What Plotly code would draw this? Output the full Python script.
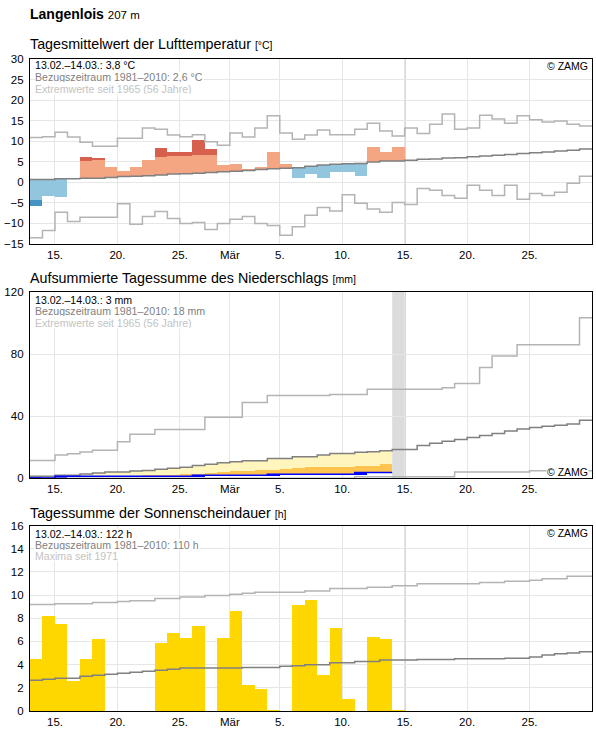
import plotly.graph_objects as go

# ---------------- DATA ----------------
# day index 0 = 13 Feb, 45 days shown (13 Feb .. 29 Mar)
tick_days = [2, 7, 12, 16, 20, 25, 30, 35, 40]
tick_labels = ["15.", "20.", "25.", "Mär", "5.", "10.", "15.", "20.", "25."]

# Temperature (°C)
temp_actual = [-5.8, -3.35, -3.6, 1.0, 6.25, 5.7, 3.7, 2.75, 3.7, 5.4,
               8.35, 7.4, 7.4, 10.3, 8.1, 4.2, 4.45, 3.25, 3.7, 7.4,
               4.45, 1.1, 2.1, 1.1, 2.6, 2.6, 1.6, 8.6, 7.4, 8.6]
temp_upper = [5.0, 5.0, 5.2, 5.2, 5.2, 5.45, 5.6, 5.8, 5.9, 6.0,
              6.2, 6.4, 6.4, 6.65, 6.65, 6.9, 7.0, 7.2, 7.4, 7.6,
              7.7, 7.9, 8.2, 8.5, 8.7, 8.8, 8.9, 9.2, 9.4, 9.4]
temp_lower = [-4.3, -4.3, -4.1, -4.1, -4.0, -4.0, -3.8, -3.6, -3.5, -3.4,
              -3.2, -3.0, -2.9, -2.8, -2.6, -2.4, -2.3, -2.1, -1.9, -1.7,
              -1.6, -1.4, -1.1, -0.8, -0.6, -0.5, -0.4, 0.0, 0.2, 0.2]
temp_norm = [0.7, 0.7, 0.9, 0.9, 1.0, 1.0, 1.2, 1.4, 1.5, 1.6,
             1.8, 2.0, 2.1, 2.2, 2.4, 2.6, 2.7, 2.9, 3.1, 3.3,
             3.4, 3.55, 3.9, 4.2, 4.4, 4.5, 4.6, 4.95, 5.2, 5.2,
             5.4, 5.6, 5.7, 5.9, 6.0, 6.2, 6.4, 6.6, 6.8, 7.0, 7.2, 7.4, 7.6, 7.8, 8.1]
temp_max = [10.9, 11.1, 12.2, 11.0, 9.75, 8.8, 8.8, 10.7, 10.7, 13.2,
            12.9, 11.5, 11.1, 11.6, 9.9, 9.0, 12.0, 11.0, 13.2, 16.2,
            12.0, 10.5, 11.5, 12.75, 11.6, 11.6, 12.9, 14.4, 12.5, 11.3,
            13.2, 11.85, 14.1, 16.6, 12.9, 13.2, 16.3, 15.4, 14.4, 16.2,
            15.2, 14.7, 14.9, 14.1, 13.7]
temp_min = [-13.5, -11.7, -7.3, -9.5, -8.5, -8.5, -8.5, -5.2, -10.2, -8.3,
            -7.1, -8.8, -10.0, -9.75, -11.5, -10.0, -9.0, -8.3, -10.0, -10.5,
            -12.9, -10.8, -8.0, -6.1, -7.0, -3.0, -5.1, -6.5, -7.3, -4.9,
            -5.4, -1.5, -1.9, -3.2, -3.9, -0.7, -1.9, -3.2, -0.7, -4.1,
            -2.7, -3.2, -2.4, -0.2, 1.5]

# Precipitation, accumulated (mm)
prec_actual = [0.2, 0.2, 1.3, 1.3, 1.3, 1.3, 1.3, 1.3, 1.3, 1.3,
               1.3, 1.3, 1.3, 1.9, 1.9, 1.9, 1.9, 1.9, 1.9, 2.6,
               2.6, 2.6, 2.6, 2.6, 2.6, 2.6, 3.8, 3.8, 3.8]
prec_half = [0.6, 0.6, 1.0, 1.0, 1.3, 1.3, 1.3, 1.3, 1.3, 2.1,
             2.1, 2.1, 3.0, 3.0, 3.6, 4.0, 4.4, 4.9, 5.3, 5.3,
             6.0, 6.4, 7.1, 7.1, 7.5, 7.6, 8.1, 8.1, 9.4]
prec_norm = [1.3, 1.3, 1.9, 1.9, 2.7, 3.4, 4.0, 4.0, 4.7, 5.1,
             5.8, 6.4, 7.1, 8.3, 9.0, 10.0, 10.7, 11.3, 11.3, 12.8,
             12.8, 13.9, 13.9, 15.0, 16.0, 16.0, 16.7, 17.1, 17.7, 18.6,
             18.6, 21.2, 22.5, 23.8, 25.0, 26.3, 27.6, 28.9, 30.4, 31.7,
             32.8, 33.6, 34.2, 34.9, 37.4]
prec_max = [11.5, 11.5, 15.0, 15.8, 16.9, 18.0, 18.0, 23.5, 28.4, 28.4,
            31.5, 31.5, 31.5, 31.5, 39.4, 39.4, 39.4, 48.8, 48.8, 53.3,
            53.3, 53.3, 53.3, 53.3, 53.9, 53.9, 53.9, 57.3, 57.3, 57.3,
            57.3, 57.3, 57.3, 58.4, 61.0, 61.0, 71.3, 78.8, 78.8, 86.0,
            86.0, 86.0, 86.0, 86.0, 103.4]
prec_min = [0.0] * 26 + [1.0] * 8 + [4.0] * 6 + [4.9] * 5

# Sunshine duration (h)
sun_actual = [4.5, 8.25, 7.56, 2.62, 4.5, 6.23, 0, 0, 0, 0,
              5.9, 6.78, 6.32, 7.39, 0, 6.32, 8.66, 2.25, 1.9, 0.12,
              0, 9.18, 9.6, 3.12, 7.19, 1.04, 0, 6.4, 6.23, 0.09]
sun_norm = [2.66, 2.74, 2.83, 2.83, 3.0, 3.09, 3.17, 3.26, 3.35, 3.43,
            3.52, 3.61, 3.7, 3.7, 3.7, 3.7, 3.7, 3.75, 3.75, 3.75,
            3.87, 3.9, 3.98, 3.98, 4.16, 4.16, 4.27, 4.27, 4.39, 4.39,
            4.39, 4.44, 4.44, 4.44, 4.5, 4.5, 4.5, 4.5, 4.56, 4.56,
            4.65, 4.82, 4.93, 5.0, 5.1]
sun_max = [9.18, 9.18, 9.25, 9.25, 9.25, 9.35, 9.35, 9.45, 9.52, 9.52,
           9.7, 9.7, 9.84, 9.84, 9.96, 9.96, 10.07, 10.15, 10.25, 10.25,
           10.25, 10.25, 10.36, 10.36, 10.56, 10.56, 10.56, 10.68, 10.68, 10.8,
           10.8, 10.97, 10.97, 10.97, 10.97, 10.97, 11.08, 11.08, 11.2, 11.2,
           11.28, 11.4, 11.4, 11.63, 11.63]

# ---------------- STYLE ----------------
W, H = 596, 729
FONT = "Liberation Sans, Arial, sans-serif"
C_LIGHT_RED, C_DARK_RED = "#f4a582", "#d6604d"
C_LIGHT_BLUE, C_DARK_BLUE = "#92c5de", "#4393c3"
C_NORM, C_EXT = "#808080", "#b4b4b4"
GRID = "#e6e6e6"

# panel pixel extents (top, bottom)
panels = [(59, 244), (292, 478.3), (525.5, 711)]


def pdom(top, bottom):
    return [1 - bottom / H, 1 - top / H]


def py(ypx):
    return 1 - ypx / H


def step(vals):
    return list(range(len(vals) + 1)), list(vals) + [vals[-1]]


fig = go.Figure()


def add_line(vals, color, axis, width=1.5):
    xs, ys = step(vals)
    fig.add_trace(go.Scatter(x=xs, y=ys, mode="lines", line=dict(color=color, width=width, shape="hv"),
                             xaxis="x" + axis, yaxis="y" + axis, hoverinfo="skip", showlegend=False))


def add_bars(bases, heights, color, axis):
    xs = [i + 0.5 for i in range(len(bases))]
    fig.add_trace(go.Bar(x=xs, y=heights, base=bases, width=1.0, marker=dict(color=color, line=dict(width=0)),
                         xaxis="x" + axis, yaxis="y" + axis, hoverinfo="skip", showlegend=False))


# ---- Panel 1: temperature ----
lr_b, lr_h, dr_b, dr_h, lb_b, lb_h, db_b, db_h = ([] for _ in range(8))
for i, a in enumerate(temp_actual):
    n, u, lo = temp_norm[i], temp_upper[i], temp_lower[i]
    if a >= n:
        top = min(a, u)
        lr_b.append(n); lr_h.append(top - n)
        dr_b.append(u); dr_h.append(max(a - u, 0))
        lb_b.append(0); lb_h.append(0); db_b.append(0); db_h.append(0)
    else:
        bot = max(a, lo)
        lb_b.append(bot); lb_h.append(n - bot)
        db_b.append(a); db_h.append(max(lo - a, 0))
        lr_b.append(0); lr_h.append(0); dr_b.append(0); dr_h.append(0)
add_bars(lr_b, lr_h, C_LIGHT_RED, "")
add_bars(dr_b, dr_h, C_DARK_RED, "")
add_bars(lb_b, lb_h, C_LIGHT_BLUE, "")
add_bars(db_b, db_h, C_DARK_BLUE, "")
add_line(temp_max, C_EXT, "")
add_line(temp_min, C_EXT, "")
add_line(temp_norm, C_NORM, "")

# ---- Panel 2: precipitation ----
n_p = len(prec_actual)
add_bars(prec_actual, [prec_half[i] - prec_actual[i] if prec_half[i] > prec_actual[i] else 0 for i in range(n_p)],
         "#fec44f", "2")
add_bars([max(prec_half[i], prec_actual[i]) for i in range(n_p)],
         [max(prec_norm[i] - max(prec_half[i], prec_actual[i]), 0) for i in range(n_p)], "#fff5bd", "2")
prev = [0] + prec_actual[:-1]
add_bars(prev, [prec_actual[i] - prev[i] for i in range(n_p)], "#0000ff", "2")
add_line(prec_max, C_EXT, "2")
add_line(prec_min, C_EXT, "2")
add_line(prec_norm, C_NORM, "2")
add_line(prec_actual, "#0000ff", "2", width=1.5)

# ---- Panel 3: sunshine ----
add_bars([0] * len(sun_actual), sun_actual, "#ffd700", "3")
add_line(sun_max, C_EXT, "3")
add_line(sun_norm, C_NORM, "3")

# ---------------- AXES ----------------
axis_common = dict(showline=True, linecolor="black", linewidth=1.3, mirror=True, automargin=False,
                   showgrid=True, gridcolor=GRID, gridwidth=1, zeroline=False, ticks="",
                   tickfont=dict(family=FONT, size=11.5, color="black"), fixedrange=True)
layout = dict(width=W, height=H, margin=dict(l=30, r=4, t=0, b=0),
              paper_bgcolor="white", plot_bgcolor="white", barmode="overlay", bargap=0,
              showlegend=False, font=dict(family=FONT))
yranges = [[-15, 30], [0, 120], [0, 16]]
ydticks = [5, 40, 2]
for k, (suffix, (t, b)) in enumerate(zip(["", "2", "3"], panels)):
    layout["xaxis" + suffix] = dict(axis_common, domain=[0, 1], range=[0, 45], anchor="y" + suffix,
                                    tickmode="array", tickvals=tick_days, ticktext=tick_labels)
    layout["yaxis" + suffix] = dict(axis_common, domain=pdom(t, b), range=yranges[k], anchor="x" + suffix,
                                    tick0=0, dtick=ydticks[k], ticklabelstandoff=3)
fig.update_layout(**layout)

# ---------------- SHAPES ----------------
fig.add_shape(type="rect", xref="x2", yref="y2", x0=29, x1=30, y0=0, y1=120,
              fillcolor="#dcdcdc", line=dict(width=0), layer="below")
for suffix, (y0, y1) in zip(["", "2", "3"], yranges):
    fig.add_shape(type="line", xref="x" + suffix, yref="y" + suffix, x0=30, x1=30, y0=y0, y1=y1,
                  line=dict(color=C_NORM, width=1.3), layer="below")

# ---------------- TEXT ----------------
def ann(text, x, ypx, size, color="black", xanchor="left", bg=None, h=None):
    fig.add_annotation(text=text, xref="paper", yref="paper", x=x, y=py(ypx), xanchor=xanchor,
                       yanchor="middle", showarrow=False, font=dict(family=FONT, size=size, color=color),
                       bgcolor=bg, borderpad=0, height=h, valign="middle")


ann("<b>Langenlois</b> <span style='font-size:11.5px'>207 m</span>", -0.002, 14, 14)
titles = [("Tagesmittelwert der Lufttemperatur", "[°C]", 44),
          ("Aufsummierte Tagessumme des Niederschlags", "[mm]", 278.5),
          ("Tagessumme der Sonnenscheindauer", "[h]", 512.5)]
for t, u, yc in titles:
    ann(t + " <span style='font-size:10.5px'>" + u + "</span>", -0.002, yc, 14.3)

info = [
    (["13.02.–14.03.: 3,8 °C", "Bezugszeitraum 1981–2010: 2,6 °C", "Extremwerte seit 1965 (56 Jahre)"],
     [64.7, 77.0, 89.2]),
    (["13.02.–14.03.: 3 mm", "Bezugszeitraum 1981–2010: 18 mm", "Extremwerte seit 1965 (56 Jahre)"],
     [300.0, 311.4, 322.9]),
    (["13.02.–14.03.: 122 h", "Bezugszeitraum 1981–2010: 110 h", "Maxima seit 1971"],
     [534.0, 544.9, 555.9]),
]
cols = ["black", "#808080", "#c3c3c3"]
for lines, ys in info:
    for txt, yc, c in zip(lines, ys, cols):
        ann(txt, 0.008, yc, 10.6, c, bg="white", h=10)

for yc in [65.7, 472.3, 533.3]:
    ann("© ZAMG", 0.9945, yc, 10.5, "black", xanchor="right", bg="white", h=10)

fig.write_html("out.html")
